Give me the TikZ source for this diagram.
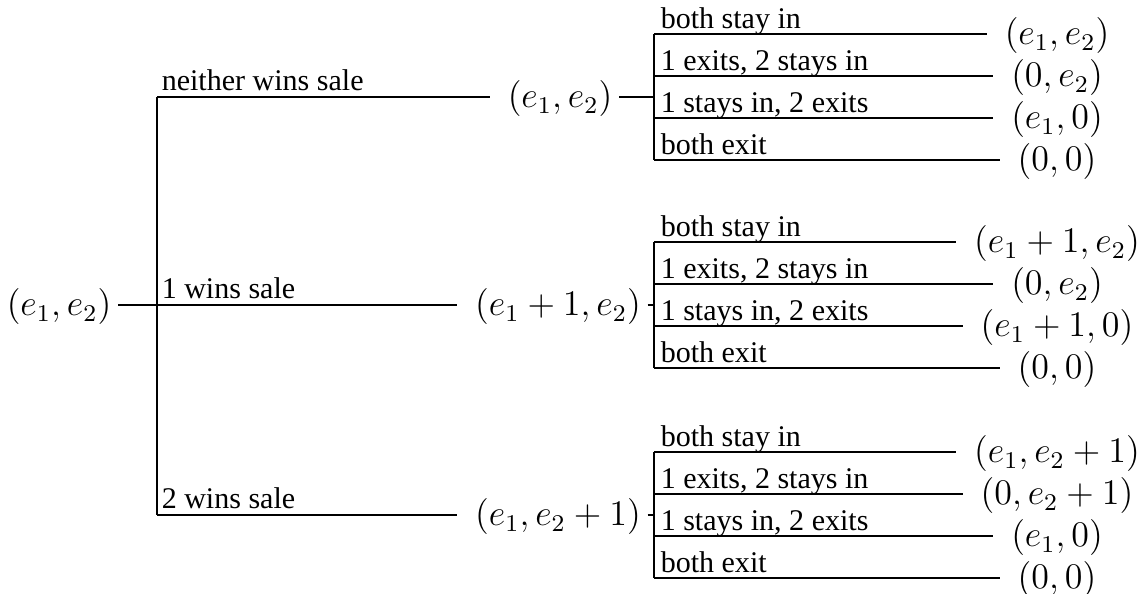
\documentclass[tikz,border=0pt]{standalone}
\usepackage[no-math]{fontspec}
\setmainfont{Liberation Serif}
\usepackage{amsmath, amssymb}
\tikzset{every picture/.style={line width=0.5pt}}

\begin{document}
\begin{tikzpicture}[x=0.333pt,y=0.333pt,yscale=-1,xscale=1,
  pay/.style={font=\large, inner sep=2pt, text height=10.3pt, text depth=3pt},
  lbl/.style={anchor=base west, inner sep=0pt},
  gap/.style={shorten >=3.7pt}]
\useasboundingbox (0,0) rectangle (1143,593);

% Text Node
\node [pay] (root) at (59,305) {$(e_1,e_2)$};
\coordinate (fork) at (157,305);

% Text Node
\node [pay] (n0) at (560,97) {$(e_1,e_2)$};
\node [pay] (n1) at (558,305) {$(e_1+1,e_2)$};
\node [pay] (n2) at (558,515) {$(e_1,e_2+1)$};
\coordinate (j0) at (654,97);
\coordinate (j1) at (654,305);
\coordinate (j2) at (654,515);

%Straight Lines
\draw (n0.west -| fork) -- (n2.west -| fork) ;
\draw [gap] (n0.west -| fork) -- (n0.west) ;
\draw [gap] (root.east) -- (n1.west) ;
\draw [gap] (n2.west -| fork) -- (n2.west) ;
\draw (n0.east) -- (j0) ;
\draw (n1.east) -- (j1) ;
\draw (n2.east) -- (j2) ;

% Text Node
\node [lbl] (w0) at (161,90) {neither wins sale};
\node [lbl] (w1) at (161,298) {1 wins sale};
\node [lbl] (w2) at (161,508) {2 wins sale};

% Text Node (neither wins sale)
\node [pay] (l00) at (1057,34) {$(e_1,e_2)$};
\node [pay] (l01) at (1057,76) {$(0,e_2)$};
\node [pay] (l02) at (1057,118) {$(e_1,0)$};
\node [pay] (l03) at (1057,160) {$(0,0)$};
%Straight Lines
\draw (l00.west -| j0) -- (l03.west -| j0) ;
\draw [gap] (l00.west -| j0) -- (l00.west) ;
\draw [gap] (l01.west -| j0) -- (l01.west) ;
\draw [gap] (l02.west -| j0) -- (l02.west) ;
\draw [gap] (l03.west -| j0) -- (l03.west) ;
% Text Node
\node [lbl] (s00) at (660,28) {both stay in};
\node [lbl] (s01) at (660,70) {1 exits, 2 stays in};
\node [lbl] (s02) at (660,112) {1 stays in, 2 exits};
\node [lbl] (s03) at (660,154) {both exit};

% Text Node (1 wins sale)
\node [pay] (l10) at (1057,242) {$(e_1+1,e_2)$};
\node [pay] (l11) at (1057,284) {$(0,e_2)$};
\node [pay] (l12) at (1057,326) {$(e_1+1,0)$};
\node [pay] (l13) at (1057,368) {$(0,0)$};
%Straight Lines
\draw (l10.west -| j1) -- (l13.west -| j1) ;
\draw [gap] (l10.west -| j1) -- (l10.west) ;
\draw [gap] (l11.west -| j1) -- (l11.west) ;
\draw [gap] (l12.west -| j1) -- (l12.west) ;
\draw [gap] (l13.west -| j1) -- (l13.west) ;
% Text Node
\node [lbl] (s10) at (660,236) {both stay in};
\node [lbl] (s11) at (660,278) {1 exits, 2 stays in};
\node [lbl] (s12) at (660,320) {1 stays in, 2 exits};
\node [lbl] (s13) at (660,362) {both exit};

% Text Node (2 wins sale)
\node [pay] (l20) at (1057,452) {$(e_1,e_2+1)$};
\node [pay] (l21) at (1057,494) {$(0,e_2+1)$};
\node [pay] (l22) at (1057,536) {$(e_1,0)$};
\node [pay] (l23) at (1057,578) {$(0,0)$};
%Straight Lines
\draw (l20.west -| j2) -- (l23.west -| j2) ;
\draw [gap] (l20.west -| j2) -- (l20.west) ;
\draw [gap] (l21.west -| j2) -- (l21.west) ;
\draw [gap] (l22.west -| j2) -- (l22.west) ;
\draw [gap] (l23.west -| j2) -- (l23.west) ;
% Text Node
\node [lbl] (s20) at (660,446) {both stay in};
\node [lbl] (s21) at (660,488) {1 exits, 2 stays in};
\node [lbl] (s22) at (660,530) {1 stays in, 2 exits};
\node [lbl] (s23) at (660,572) {both exit};

\end{tikzpicture}
\end{document}
